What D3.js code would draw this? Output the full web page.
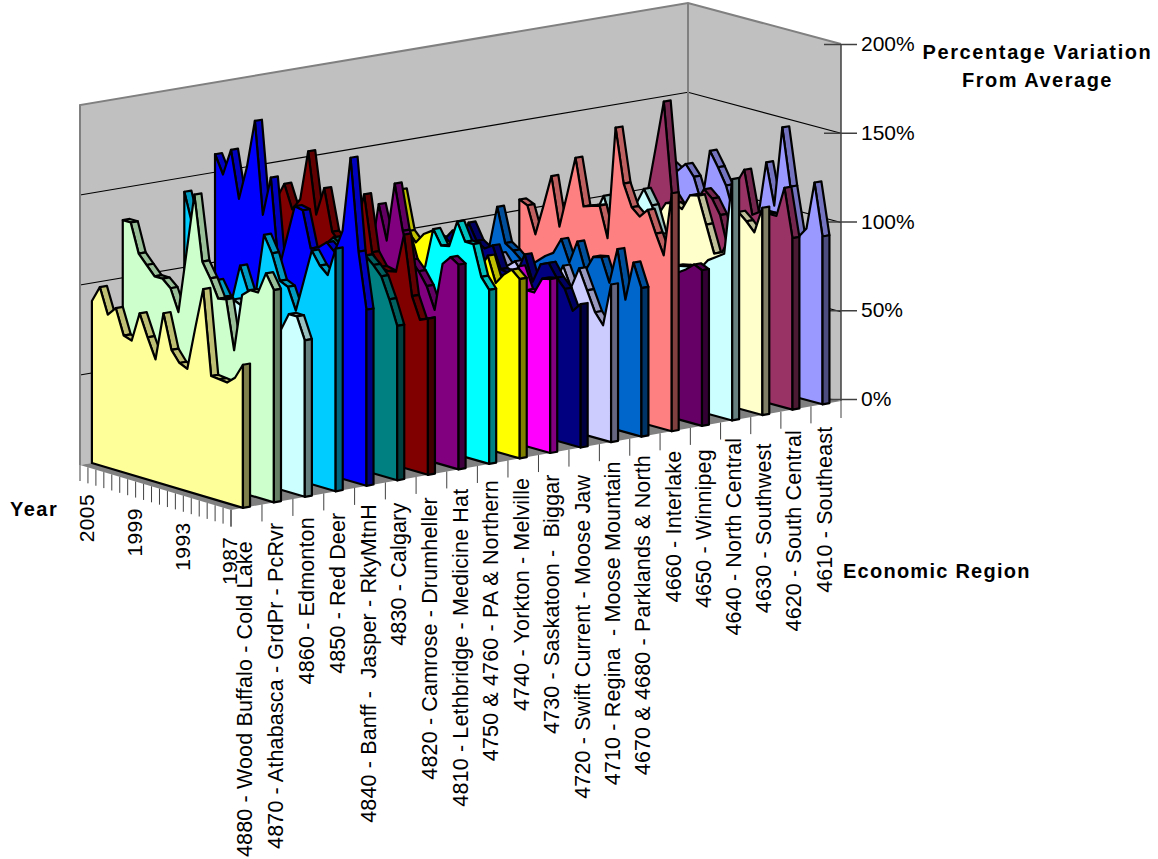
<!DOCTYPE html>
<html>
<head>
<meta charset="utf-8">
<script src="https://cdnjs.cloudflare.com/ajax/libs/d3/7.8.5/d3.min.js"></script>
<style>
body { margin: 0; background: #fff; }
text { font-family: "Liberation Sans", Arial, sans-serif; fill: #000; white-space: pre; }
</style>
</head>
<body>
<svg width="1158" height="859"></svg>
<script>
var years = [2005,2004,2003,2002,2001,2000,1999,1998,1997,1996,1995,1994,1993,1992,1991,1990,1989,1988,1987,1986];
var yearLabels = [2005,1999,1993,1987];
var valueTicks = [0,50,100,150,200];

var regions = [
	"4880 - Wood Buffalo - Cold Lake",
	"4870 - Athabasca - GrdPr - PcRvr",
	"4860 - Edmonton",
	"4850 - Red Deer",
	"4840 - Banff -  Jasper - RkyMtnH",
	"4830 - Calgary",
	"4820 - Camrose - Drumheller",
	"4810 - Lethbridge - Medicine Hat",
	"4750 & 4760 - PA & Northern",
	"4740 - Yorkton - Melville",
	"4730 - Saskatoon -  Biggar",
	"4720 - Swift Current - Moose Jaw",
	"4710 - Regina  - Moose Mountain",
	"4670 & 4680 - Parklands & North",
	"4660 - Interlake",
	"4650 - Winnipeg",
	"4640 - North Central",
	"4630 - Southwest",
	"4620 - South Central",
	"4610 - Southeast"
];

var colors = ["#FFFF99","#CCFFCC","#CCFFFF","#00CCFF","#0000FF","#008080","#800000","#800080","#00FFFF","#FFFF00",
	"#FF00FF","#000080","#CCCCFF","#0066CC","#FF8080","#660066","#CCFFFF","#FFFFCC","#993366","#9999FF"];

// percent of average, 2005 first
var s4880 = [90,99,85,90,76,74.5,91,79,68,95,76,70,68,92,115,68,67.5,67,71,79.5];
var s4870 = [132,132,116,111,106,106,102,90,124,158,122,114,104,105,78,110,114,114,126,118];
var s4860 = [85,86,84,83,85,87,84,82,85,90,98,96,92,90,88,86,89,99,99,87];
var s4850 = [142,125,100,95,98,90,90,110,97,98,131,122,108,106,94,112,130,123,119,135];
var s4840 = [160,150,165,139,158,185,134,156,106,125,144,143,123,125,129,125,138,180,129,98];
var s4830 = [110,105,115,110,90,95,105,110,110,115,120,125,122,118,118,120,116,111,99.5,86];
var s4820 = [129,139,126,133,161,127,143,120,115,115,125,146,115,108,107,108,130,97,85,87];
var s4810 = [105,100,108,102,110,104,100,108,105,135,116,149,124,109,104,97,85,112,117,114];
var s4750 = [88,92,86,90,85,84,88,86,90,92,92,100,122,114,115,130,120,120,103,97];
var s4740 = [90,92,100,115,131,109,104,110,113,109,106,105,100,100,99,108,94,100,104,100];
var s4730 = [88,86,90,87,85,88,86,90,84,85,88,86,90,87,85,99,87,87,96,97];
var s4720 = [95,95,95,101,93,108,99,96,99,87,86,87,99,85,96,98,91,86,75,80];
var s4710 = [80,78,82,79,81,88,82,86,80,78,75,74,80,91,80,92,81,70,64,88];
var s4670 = [82,106,87,84,80,78,82,86,89,98,86,99,84,93,94,81,101,74,96,83];
var s4660 = [106,104,89,106,124,97,117,138,112,113.5,115,98,161,131,119,115,120,108,97,133];
var s4650 = [80,82,78,80,84,82,78,83,80,82,84,80,78,82,80,78,82,85,89,87];
var s4640 = [90,90,95,106,92,90,95,106,116,108,93,75,78,79,80,80,86,89,92,135];
var s4630 = [90,88,92,90,92,90,96,104,105,103,112,113,98,83,85,95,110,106,101,116];
var s4620 = [95,100,126,153,102,96,98,102,110,106,98,80,118,127,103,106,106,106,123,96];
var s4610 = [112,109,114,108,94,125,117,108,93,90,95,95,127,104,149,117,90,96,123,94];

var allSeries = [s4880,s4870,s4860,s4850,s4840,s4830,s4820,s4810,s4750,s4740,
	s4730,s4720,s4710,s4670,s4660,s4650,s4640,s4630,s4620,s4610];

// how far below the floor each region label stops, the picture is not even here
var labelGap = [34,21,21,22,19,23,23,20,17,20,22,28,20,19,20,24,18,29,21,23];

var svg = d3.select('svg');

// floor corners of the fake 3d box
var cornerLeft = [80,465], cornerFront = [231,510], cornerBack = [688,360], cornerRight = [841,401];
var thick = 7/610;

var yearScale = d3.scalePoint().domain(years).range([0,1]);
var catScale = d3.scaleBand().domain(regions).range([0,1]);
var valScale = d3.scaleLinear().domain([0,200]).range([0,1]);

// near regions are a bit wider than far ones
function warp(u){ return u*1.0164/(1+0.0164*u); }

// u along the regions, v along the years, val in percent
function proj(u,v,val){
	var t = warp(u);
	var x0 = cornerLeft[0] + (cornerFront[0]-cornerLeft[0])*v;
	var y0 = cornerLeft[1] + (cornerFront[1]-cornerLeft[1])*v;
	var x1 = cornerBack[0] + (cornerRight[0]-cornerBack[0])*v;
	var y1 = cornerBack[1] + (cornerRight[1]-cornerBack[1])*v;
	var h = 360 - 3*t;
	return [x0+(x1-x0)*t, y0+(y1-y0)*t - valScale(val)*h];
}

var line = d3.line();

// walls
svg.append('path').attr('d', line([proj(0,0,0),proj(0,0,200),proj(1,0,200),proj(1,0,0)])+'Z')
	.attr('fill','#c0c0c0');
svg.append('path').attr('d', line([proj(1,0,0),proj(1,0,200),proj(1,1,200),proj(1,1,0)])+'Z')
	.attr('fill','#c0c0c0');

// floor
svg.append('path').attr('d', line([proj(0,0,0),proj(0,1,0),proj(1,1,0),proj(1,0,0)])+'Z')
	.attr('fill','#808080');

// gridlines
valueTicks.slice(1,4).forEach(function(v){
	svg.append('path').attr('d', line([proj(0,0,v),proj(1,0,v),proj(1,1,v)]))
		.attr('fill','none').attr('stroke','#000').attr('stroke-width',1.2);
});

// wall edges
svg.append('path').attr('d', line([proj(0,0,0),proj(0,0,200),proj(1,0,200),proj(1,1,200)]))
	.attr('fill','none').attr('stroke','#808080').attr('stroke-width',2);
svg.append('path').attr('d', line([proj(1,0,200),proj(1,0,0)]))
	.attr('fill','none').attr('stroke','#808080').attr('stroke-width',2);
svg.append('path').attr('d', line([proj(1,1,200),proj(1,1,0)]))
	.attr('fill','none').attr('stroke','#404040').attr('stroke-width',1.5);

// value axis
var axisScale = d3.scaleLinear().domain([0,200]).range([proj(1,1,0)[1]-2, proj(1,1,200)[1]]);
var yAxis = svg.append('g').attr('transform','translate('+cornerRight[0]+',0)')
	.call(d3.axisRight(axisScale).tickValues(valueTicks).tickSize(16).tickFormat(function(d){return d+'%'}));
yAxis.select('.domain').remove();
yAxis.selectAll('.tick line').attr('x1',-17).attr('stroke','#404040').attr('stroke-width',1.5);
yAxis.selectAll('.tick text').attr('x',20).attr('font-size',21).attr('font-family','"Liberation Sans"').attr('fill','#000');

// year ticks
svg.selectAll('.yearTick').data(years).enter().append('line')
	.attr('class','yearTick')
	.attr('x1',function(d){return proj(0,yearScale(d),0)[0]})
	.attr('x2',function(d){return proj(0,yearScale(d),0)[0]})
	.attr('y1',function(d){return proj(0,yearScale(d),0)[1]})
	.attr('y2',function(d){return proj(0,yearScale(d),0)[1]+16})
	.attr('stroke','#404040').attr('stroke-width',1);

svg.selectAll('.yearLabel').data(yearLabels).enter().append('text')
	.attr('class','yearLabel')
	.attr('font-size',21)
	.attr('letter-spacing',0.4)
	.attr('text-anchor','end')
	.attr('dy','0.35em')
	.attr('transform',function(d){
		var p = proj(0,yearScale(d),0);
		return 'translate('+(p[0]+7)+','+(p[1]+29)+') rotate(-90)';
	})
	.text(function(d){return d});

// region ticks, one at each band edge
var catEdges = regions.map(function(r){return catScale(r)}).concat([1]);
svg.selectAll('.catTick').data(catEdges).enter().append('line')
	.attr('class','catTick')
	.attr('x1',function(d){return proj(d,1,0)[0]})
	.attr('x2',function(d){return proj(d,1,0)[0]})
	.attr('y1',function(d){return proj(d,1,0)[1]})
	.attr('y2',function(d){return proj(d,1,0)[1]+17})
	.attr('stroke','#404040').attr('stroke-width',1);

svg.selectAll('.catLabel').data(regions).enter().append('text')
	.attr('class','catLabel')
	.attr('font-size',21.5)
	.attr('letter-spacing',0.15)
	.attr('text-anchor','end')
	.attr('dy','0.35em')
	.attr('transform',function(d,i){
		var p = proj(catScale(d)+catScale.bandwidth()/2,1,0);
		return 'translate('+(p[0]-2)+','+(p[1]+labelGap[i])+') rotate(-90)';
	})
	.text(function(d){return d});

function shade(c,k){
	var r = d3.rgb(c);
	return d3.rgb(r.r*k,r.g*k,r.b*k).formatHex();
}

// ribbons, the far one first
d3.range(regions.length-1,-1,-1).forEach(function(i){
	var vals = allSeries[i];
	var center = catScale(regions[i])+catScale.bandwidth()/2;
	var uf = center-thick/2, ub = center+thick/2;
	var g = svg.append('g').attr('stroke','#000').attr('stroke-width',2.2).attr('stroke-linejoin','round');

	var front = years.map(function(y,j){return proj(uf,yearScale(y),vals[j])});
	var back = years.map(function(y,j){return proj(ub,yearScale(y),vals[j])});

	// top strips, only those turned to the viewer
	d3.range(0,years.length-1).forEach(function(k){
		var ex = front[k+1][0]-front[k][0], ey = front[k+1][1]-front[k][1];
		var dx = back[k][0]-front[k][0], dy = back[k][1]-front[k][1];
		if (ex*dy-ey*dx < 0) {
			g.append('path').attr('d', line([front[k],front[k+1],back[k+1],back[k]])+'Z')
				.attr('fill',shade(colors[i],0.75));
		}
	});

	var face = [proj(uf,0,0)].concat(front).concat([proj(uf,1,0)]);
	g.append('path').attr('d', line(face)+'Z').attr('fill',colors[i]);

	// end cap on the 1986 side
	var n = years.length-1;
	g.append('path').attr('d', line([front[n],back[n],proj(ub,1,0),proj(uf,1,0)])+'Z')
		.attr('fill',shade(colors[i],0.5));
});

// titles
var titles = [
	{t:'Year',x:10,y:516,a:'start',ls:1.5},
	{t:'Percentage Variation',x:1037.5,y:59,a:'middle',ls:1.6},
	{t:'From Average',x:1037.5,y:87,a:'middle',ls:1.5},
	{t:'Economic Region',x:843,y:578,a:'start',ls:1.25}
];
svg.selectAll('.title').data(titles).enter().append('text')
	.attr('class','title')
	.attr('font-size',20)
	.attr('font-weight','bold')
	.attr('letter-spacing',function(d){return d.ls})
	.attr('text-anchor',function(d){return d.a})
	.attr('x',function(d){return d.x})
	.attr('y',function(d){return d.y})
	.text(function(d){return d.t});
</script>
</body>
</html>
